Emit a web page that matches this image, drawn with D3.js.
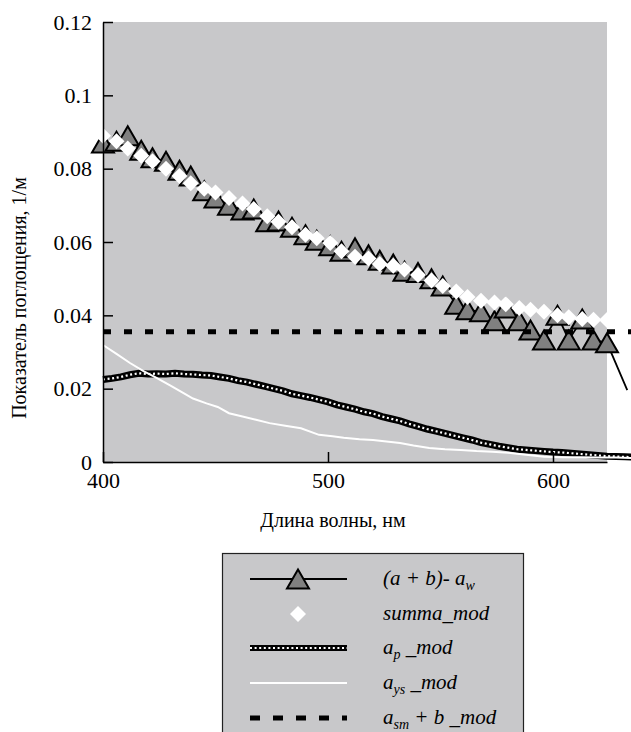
<!DOCTYPE html>
<html>
<head>
<meta charset="utf-8">
<script src="https://cdn.jsdelivr.net/npm/d3@7"></script>
<style>
  body { margin: 0; background: #fff; }
  text { font-family: "Liberation Serif", "Times New Roman", serif; }
</style>
</head>
<body>
<script>
// wavelengths of the marker series (nm)
const markWl = [400, 406, 411, 417, 422, 428, 434, 439, 445, 450, 456, 462, 467, 473, 478, 484, 490, 495, 501, 506,
  512, 518, 523, 529, 534, 540, 546, 551, 557, 562, 568, 574, 579, 585, 590, 596, 602, 607, 613, 618, 624]

// (a + b) - a_w, measured
const measured = [0.087, 0.0875, 0.089, 0.085, 0.083, 0.082, 0.0796, 0.078, 0.074, 0.072, 0.070, 0.0687, 0.069, 0.0655,
  0.0657, 0.064, 0.062, 0.0605, 0.059, 0.0575, 0.0584, 0.0565, 0.055, 0.054, 0.052, 0.0517, 0.050, 0.048, 0.043,
  0.0415, 0.041, 0.0385, 0.042, 0.0385, 0.036, 0.0333, 0.040, 0.0333, 0.039, 0.0333, 0.0325]
// tail of the measured line past the last marker
const measuredTailWl = [624, 633]
const measuredTail = [0.0325, 0.0196]

// summa_mod
const summaMod = [0.089, 0.0875, 0.0855, 0.0835, 0.082, 0.080, 0.078, 0.076, 0.0745, 0.0735, 0.072, 0.0705, 0.069, 0.067,
  0.0655, 0.064, 0.062, 0.061, 0.0597, 0.0575, 0.056, 0.0555, 0.054, 0.0535, 0.0525, 0.051, 0.0495, 0.048, 0.0465,
  0.045, 0.044, 0.0435, 0.043, 0.042, 0.0415, 0.041, 0.040, 0.0395, 0.039, 0.0388, 0.0387]

// a_p _mod
const apWl = [400, 404, 408, 412, 416, 420, 424, 428, 432, 436, 440, 444, 448, 452, 456, 460, 464, 468, 472, 476, 480,
  484, 488, 492, 496, 500, 504, 508, 512, 516, 520, 524, 528, 532, 536, 540, 544, 548, 552, 556, 560, 564, 568, 572,
  576, 580, 584, 588, 592, 596, 600, 604, 608, 612, 616, 620, 624, 628, 632, 636]
const apMod = [0.0225, 0.0228, 0.0232, 0.0238, 0.0242, 0.0240, 0.0241, 0.0240, 0.0242, 0.0240, 0.0239, 0.0237, 0.0236,
  0.0232, 0.0228, 0.0222, 0.0218, 0.0212, 0.0206, 0.0200, 0.0194, 0.0186, 0.0181, 0.0176, 0.0170, 0.0164, 0.0156,
  0.0150, 0.0144, 0.0137, 0.0132, 0.0124, 0.0118, 0.0112, 0.0104, 0.0097, 0.0090, 0.0084, 0.0078, 0.0072, 0.0066,
  0.0060, 0.0053, 0.0048, 0.0043, 0.0039, 0.0035, 0.0033, 0.0031, 0.0029, 0.0027, 0.0026, 0.0024, 0.0022, 0.0020,
  0.0018, 0.0016, 0.0015, 0.0014, 0.0013]

// a_ys _mod
const aysWl = [400, 406, 412, 418, 424, 430, 436, 440, 446, 451, 456, 462, 468, 474, 481, 488, 496, 502, 507, 514, 520,
  526, 532, 538, 545, 552, 559, 566, 573, 580, 588, 596, 604, 612, 620, 628, 636]
const aysMod = [0.0319, 0.0295, 0.027, 0.0248, 0.0229, 0.0208, 0.0187, 0.0173, 0.016, 0.015, 0.0133, 0.0124, 0.0115,
  0.0106, 0.0099, 0.0092, 0.0074, 0.0070, 0.0066, 0.0062, 0.0060, 0.0056, 0.0052, 0.0045, 0.0038, 0.0035, 0.0033,
  0.0030, 0.0028, 0.0025, 0.0020, 0.0014, 0.0013, 0.0013, 0.0012, 0.0012, 0.0011]

// a_sm + b _mod (constant)
const asmWl = [400, 636]
const asmMod = [0.0355, 0.0355]

const xTicks = [400, 500, 600]
const yTicks = [0, 0.02, 0.04, 0.06, 0.08, 0.1, 0.12]
const yTickLabels = ["0", "0.02", "0.04", "0.06", "0.08", "0.1", "0.12"]

const W = 631, H = 732
const plot = { left: 103, right: 607, top: 22, bottom: 462 }
const bg = "#c8c8ca"

const svg = d3.select("body").append("svg")
  .attr("width", W)
  .attr("height", H)
  .attr("font-family", "Liberation Serif")

const x = d3.scaleLinear().domain([400, 624]).range([plot.left, plot.right])
const y = d3.scaleLinear().domain([0, 0.12]).range([plot.bottom, plot.top])

svg.append("rect")
  .attr("x", plot.left).attr("y", plot.top)
  .attr("width", plot.right - plot.left).attr("height", plot.bottom - plot.top)
  .attr("fill", bg)

const line = d3.line().x(d => x(d[0])).y(d => y(d[1]))
const zip = (a, b) => a.map((v, i) => [v, b[i]])

const triPath = "M0,-9.5L11,9.5L-11,9.5Z"
const diaPath = "M0,-8L8,0L0,8L-8,0Z"

// measured line + triangles
svg.append("path")
  .attr("d", line(zip(markWl, measured).concat(zip(measuredTailWl, measuredTail).slice(1))))
  .attr("fill", "none").attr("stroke", "#000").attr("stroke-width", 1.8)
svg.append("g").selectAll("path")
  .data(zip(markWl, measured))
  .join("path")
  .attr("transform", d => `translate(${x(d[0])},${y(d[1])})`)
  .attr("d", triPath)
  .attr("fill", "#808080").attr("stroke", "#000").attr("stroke-width", 2)

// summa_mod diamonds
svg.append("g").selectAll("path")
  .data(zip(markWl, summaMod))
  .join("path")
  .attr("transform", d => `translate(${x(d[0])},${y(d[1])})`)
  .attr("d", diaPath)
  .attr("fill", "#fff")

// a_p: checkered band of small square markers
const apLine = line(zip(apWl, apMod))
svg.append("path").attr("d", apLine)
  .attr("fill", "none").attr("stroke", "#000").attr("stroke-width", 7)
svg.append("path").attr("d", apLine)
  .attr("fill", "none").attr("stroke", "#fff").attr("stroke-width", 2.2).attr("stroke-dasharray", "2,2.6")

// a_ys white line
svg.append("path").attr("d", line(zip(aysWl, aysMod)))
  .attr("fill", "none").attr("stroke", "#fff").attr("stroke-width", 2)

// a_sm + b dashed
svg.append("path").attr("d", line(zip(asmWl, asmMod)))
  .attr("fill", "none").attr("stroke", "#000").attr("stroke-width", 5).attr("stroke-dasharray", "8,13")

// axes, ticks pointing inward
const yAxis = svg.append("g")
  .attr("transform", `translate(${plot.left},0)`)
  .call(d3.axisLeft(y).tickValues(yTicks).tickFormat((d, i) => yTickLabels[i])
    .tickSizeInner(-10).tickSizeOuter(0).tickPadding(11))
yAxis.select(".domain").attr("stroke-width", 1.5)

const xAxis = svg.append("g")
  .attr("transform", `translate(0,${plot.bottom})`)
  .call(d3.axisBottom(x).tickValues(xTicks).tickFormat(d3.format("d"))
    .tickSizeInner(-10).tickSizeOuter(0).tickPadding(10))
xAxis.select(".domain").attr("stroke-width", 1.5)

svg.selectAll(".tick line").attr("stroke-width", 1.5)
svg.selectAll(".tick text")
  .attr("font-family", "Liberation Serif").attr("font-size", 22).attr("fill", "#000")

// axis titles
svg.append("text")
  .attr("transform", "translate(26,298) rotate(-90)")
  .attr("text-anchor", "middle").attr("font-size", 20)
  .text("Показатель поглощения, 1/м")
svg.append("text")
  .attr("x", 333).attr("y", 527)
  .attr("text-anchor", "middle").attr("font-size", 20)
  .text("Длина волны, нм")

// legend
const lg = svg.append("g")
lg.append("rect")
  .attr("x", 222.5).attr("y", 553.5).attr("width", 301).attr("height", 200)
  .attr("fill", bg).attr("stroke", "#222").attr("stroke-width", 1.2)

const rowY = [579, 614, 648, 683, 718]
const sx0 = 250, sx1 = 347, sxc = 298, tx = 383

lg.append("line").attr("x1", sx0).attr("x2", sx1).attr("y1", rowY[0]).attr("y2", rowY[0])
  .attr("stroke", "#000").attr("stroke-width", 1.8)
lg.append("path").attr("transform", `translate(${sxc},${rowY[0]})`).attr("d", triPath)
  .attr("fill", "#808080").attr("stroke", "#000").attr("stroke-width", 2)
lg.append("path").attr("transform", `translate(${sxc},${rowY[1]})`).attr("d", diaPath)
  .attr("fill", "#fff")
lg.append("line").attr("x1", sx0).attr("x2", sx1).attr("y1", rowY[2]).attr("y2", rowY[2])
  .attr("stroke", "#000").attr("stroke-width", 6)
lg.append("line").attr("x1", sx0).attr("x2", sx1).attr("y1", rowY[2]).attr("y2", rowY[2])
  .attr("stroke", "#fff").attr("stroke-width", 2).attr("stroke-dasharray", "2,2.6")
lg.append("line").attr("x1", sx0).attr("x2", sx1).attr("y1", rowY[3]).attr("y2", rowY[3])
  .attr("stroke", "#fff").attr("stroke-width", 2)
lg.append("line").attr("x1", sx0).attr("x2", sx1).attr("y1", rowY[4]).attr("y2", rowY[4])
  .attr("stroke", "#000").attr("stroke-width", 5).attr("stroke-dasharray", "10,13")

// legend labels: [main, sub, rest]
const legendLabels = [
  ["(a + b)- a", "w", ""],
  ["summa_mod", "", ""],
  ["a", "p", " _mod"],
  ["a", "ys", " _mod"],
  ["a", "sm", " + b _mod"]
]
legendLabels.forEach((l, i) => {
  const t = lg.append("text")
    .attr("x", tx).attr("y", rowY[i] + 6)
    .attr("font-size", 21).attr("font-style", "italic")
  t.append("tspan").text(l[0])
  if (l[1]) t.append("tspan").attr("dy", 5).attr("font-size", 14).text(l[1])
  if (l[2]) t.append("tspan").attr("dy", -5).text(l[2])
})
</script>
</body>
</html>
